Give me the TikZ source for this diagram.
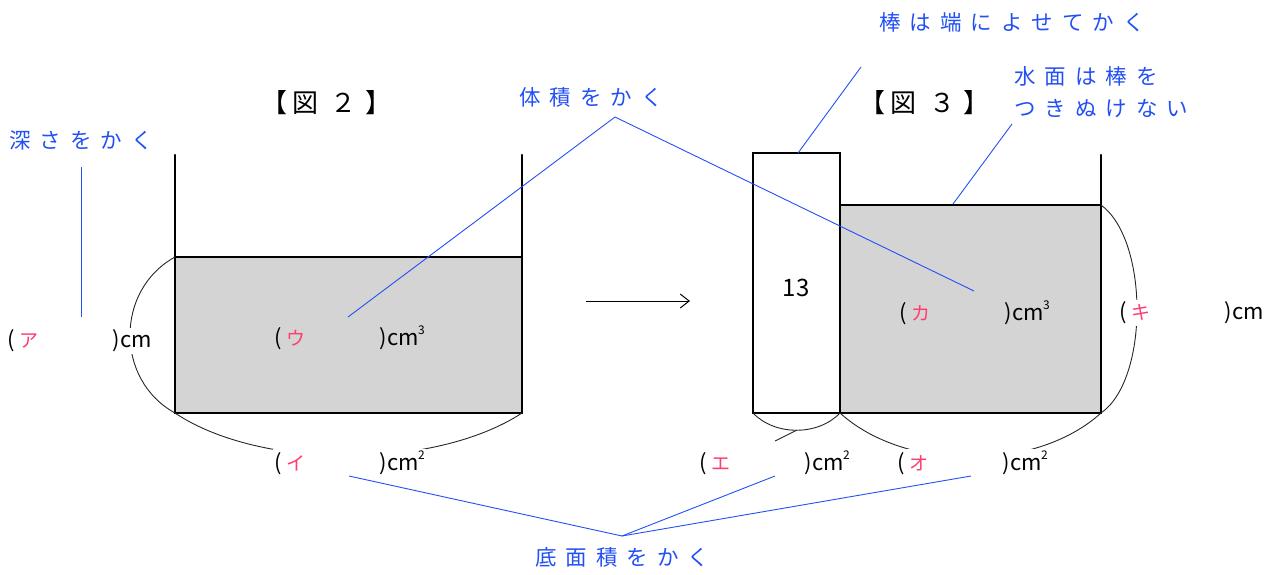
\documentclass[tikz,border=0pt]{standalone}
\usepackage{fontspec}
\setmainfont{Noto Sans CJK JP}
\newfontfamily\jpsp[LetterSpace=42]{Noto Sans CJK JP}
\newfontfamily\jpn{Noto Sans CJK JP}
\usetikzlibrary{arrows.meta}
\definecolor{annoc}{RGB}{35,80,245}
\definecolor{kanac}{RGB}{255,60,110}
\definecolor{waterc}{RGB}{212,212,212}
\newcommand{\notefont}{\jpsp\fontsize{21.5}{32}\selectfont}
\newcommand{\labfont}{\jpn\fontsize{22}{24}\selectfont}
\newcommand{\ttlfont}{\jpn\fontsize{26}{28}\selectfont}
\newcommand{\kn}[1]{{\color{kanac}\fontsize{19}{19}\selectfont #1}}
\newcommand{\supn}[1]{\kern-0.5pt\raisebox{11pt}{\fontsize{12}{12}\selectfont #1}}
\newcommand{\lab}[2]{\makebox[105pt][l]{(\hspace{4pt}\kn{#1}}{)}cm#2}
\begin{document}
\begin{tikzpicture}[x=1pt,y=-1pt,
  wall/.style={line width=2.4pt, line cap=round, line join=miter},
  dim/.style={line width=0.9pt, black!85},
  anno/.style={draw=annoc, line width=0.9pt},
  note/.style={text=annoc, font=\notefont, inner sep=0pt, anchor=west},
  lbl/.style={inner sep=1.5pt, anchor=west, font=\labfont},
  lblw/.style={lbl, fill=white},
  ttl/.style={font=\ttlfont, inner sep=0pt}]
\useasboundingbox (0,0) rectangle (1282,574);

% ---------- left tank (Fig. 2)
\coordinate (L1) at (175,257);
\coordinate (L2) at (522,257);
\coordinate (L3) at (522,413);
\coordinate (L4) at (175,413);
\fill[waterc] (L1) rectangle (L3);
\draw[wall] (175,155) -- (L4) -- (L3) -- (522,155);
\draw[wall] (L1) -- (L2);
\draw[dim] (L1) .. controls (115,290) and (115,380) .. (L4);
\draw[dim] (L4) .. controls (260,470) and (435,470) .. (L3);

% ---------- right tank (Fig. 3)
\coordinate (B1) at (753,153);
\coordinate (B2) at (840,413);
\coordinate (B3) at (753,413);
\coordinate (W1) at (840,205);
\coordinate (W2) at (1101,205);
\coordinate (W3) at (1101,413);
\fill[waterc] (W1) rectangle (W3);
\draw[wall, fill=white] (B1) rectangle (B2);
\draw[wall] (W1) -- (W2);
\draw[wall] (B2) -- (W3) -- (1101,155);
\draw[dim] (B3) .. controls (775,436) and (818,436) .. (B2);
\coordinate (BB) at (797,430);
\coordinate (BE) at (775,441);
\draw[dim] (BB) -- (BE);
\draw[dim] (B2) .. controls (905,472) and (1036,472) .. (W3);
\draw[dim] (W2) .. controls (1149,240) and (1149,380) .. (W3);

\node[font=\fontsize{24}{26}\selectfont, inner sep=0pt] (n13) at (796,288) {13};

% ---------- arrow
\coordinate (A1) at (586,301);
\coordinate (A2) at (690,301);
\draw[line width=1pt, -{Straight Barb[length=9pt,width=14pt]}] (A1) -- (A2);

% ---------- titles
\node[ttl] (t2) at (326,103) {【\hspace{6pt}図\hspace{12pt}２\hspace{8pt}】};
\node[ttl] (t3) at (924,103) {【\hspace{6pt}図\hspace{12pt}３\hspace{8pt}】};

% ---------- labels
\node[lblw] (la) at (6,341) {\lab{ア}{}};
\node[lbl] (lu) at (273,338) {\lab{ウ}{\supn{3}}};
\node[lblw] (li) at (273,463) {\lab{イ}{\supn{2}}};
\node[lblw] (le) at (698,463) {\lab{エ}{\supn{2}}};
\node[lblw] (lo) at (896,463) {\lab{オ}{\supn{2}}};
\node[lbl] (lk) at (898,313) {\lab{カ}{\supn{3}}};
\node[lblw] (lki) at (1118,313) {\lab{キ}{}};

% ---------- notes
\node[note] (nDepth) at (9,140) {深さをかく};
\node[note] (nVol) at (519,97) {体積をかく};
\node[note] (nBar) at (879,22) {棒は端によせてかく};
\node[note, anchor=north west, align=left] (nSurf) at (1014,66) {水面は棒を\\つきぬけない};
\node[note] (nBase) at (535,557) {底面積をかく};

% ---------- annotation lines
\coordinate (d1) at (81,167);
\coordinate (d2) at (81,317);
\draw[anno] (d1) -- (d2);
\coordinate (v0) at (615,117);
\coordinate (v1) at (348,317);
\coordinate (v2) at (974,291);
\draw[anno] (v1) -- (v0) -- (v2);
\coordinate (b1) at (861,67);
\coordinate (b2) at (798,153);
\draw[anno] (b1) -- (b2);
\coordinate (s1) at (1012,124);
\coordinate (s2) at (953,204);
\draw[anno] (s1) -- (s2);
\coordinate (f0) at (622,536);
\coordinate (f1) at (349,476);
\coordinate (f2) at (775,476);
\coordinate (f3) at (971,476);
\draw[anno] (f1) -- (f0) -- (f2);
\draw[anno] (f0) -- (f3);
\end{tikzpicture}
\end{document}
